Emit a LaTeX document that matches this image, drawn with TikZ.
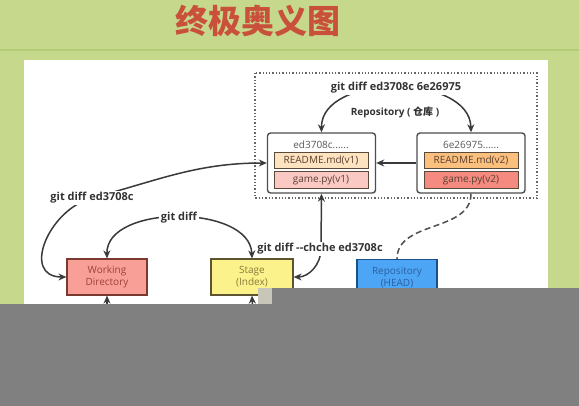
\documentclass[tikz,border=0pt]{standalone}
\usepackage{fontspec}
\setmainfont{Open Sans}
\newfontfamily\cjk{Noto Sans CJK SC}
\usetikzlibrary{arrows.meta}
\definecolor{bggreen}{HTML}{C5D88C}
\definecolor{bgline}{HTML}{B2CB74}
\definecolor{titlered}{HTML}{C9503A}
\definecolor{arrowgray}{HTML}{3A3A3A}
\definecolor{wdfill}{HTML}{F8A097}
\definecolor{wddraw}{HTML}{7A3A30}
\definecolor{wdtext}{HTML}{A0403A}
\definecolor{stfill}{HTML}{FBF28C}
\definecolor{stdraw}{HTML}{5E5530}
\definecolor{sttext}{HTML}{8A7A3A}
\definecolor{rhfill}{HTML}{4DA6F5}
\definecolor{rhdraw}{HTML}{1A4F8A}
\definecolor{rhtext}{HTML}{2A5FA0}
\definecolor{rmAfill}{HTML}{FDE3BF}
\definecolor{rmBfill}{HTML}{FBBF7E}
\definecolor{gmAfill}{HTML}{FBC9C4}
\definecolor{gmBfill}{HTML}{F58A80}
\definecolor{filedraw}{HTML}{5A4A3A}
\definecolor{filetext}{HTML}{5A4030}
\definecolor{covergray}{HTML}{808080}
\definecolor{checkgray}{HTML}{C8C6B8}
\tikzset{
  commitbox/.style={draw=arrowgray!90, line width=1.4pt, rounded corners=3pt, fill=white, minimum width=108pt, minimum height=60pt, inner sep=0pt},
  filebox/.style={draw=filedraw, line width=1pt, minimum width=94pt, minimum height=16.5pt, inner sep=0pt, font=\fontsize{10}{10}\selectfont, text=filetext},
  hashtext/.style={font=\fontsize{10}{10}\selectfont, text=black!65, inner sep=0pt},
  areabox/.style={line width=1.2pt, minimum width=80pt, minimum height=36pt, inner sep=0pt, align=center, font=\fontsize{10}{12}\selectfont},
  cmdlabel/.style={font=\bfseries\fontsize{11}{12}\selectfont, text=black!80, fill=white, inner sep=1.5pt},
  conn/.style={draw=arrowgray, line width=1.5pt},
  tip/.style={-{Stealth[length=8pt,width=7pt]}},
  tips/.style={{Stealth[length=8pt,width=7pt]}-{Stealth[length=8pt,width=7pt]}},
}
\begin{document}
\begin{tikzpicture}[x=1pt,y=-1pt]
\useasboundingbox (0,0) rectangle (579,406);
\fill[bggreen] (0,0) rectangle (579,406);
\draw[bgline, line width=1.2pt] (0,50) -- (579,50);
\node[text=titlered, font=\cjk\bfseries\fontsize{33}{36}\selectfont] (title) at (258,21) {终极奥义图};
\fill[white] (24,60) rectangle (548,406);

% repository frame
\draw[black!60, line width=1.3pt, dotted] (255,73) rectangle (537,198);
\node[font=\bfseries\fontsize{10}{12}\selectfont, text=black!80] (repolabel) at (395,112) {Repository ( {\cjk 仓库} )};

% commits
\node[commitbox] (c1) at (321.5,163) {};
\node[hashtext] (h1) at (321,145) {ed3708c......};
\node[filebox, fill=rmAfill] (r1) at (321,160.5) {README.md(v1)};
\node[filebox, fill=gmAfill] (g1) at (321,180) {game.py(v1)};

\node[commitbox] (c2) at (471,163) {};
\node[hashtext] (h2) at (471,145) {6e26975......};
\node[filebox, fill=rmBfill] (r2) at (471,160.5) {README.md(v2)};
\node[filebox, fill=gmBfill] (g2) at (471,180) {game.py(v2)};

% areas
\node[areabox, fill=wdfill, draw=wddraw, text=wdtext] (wd) at (107,277) {Working\\Directory};
\node[areabox, fill=stfill, draw=stdraw, text=sttext, minimum width=82pt] (st) at (252,277) {Stage\\(Index)};
\node[areabox, fill=rhfill, draw=rhdraw, text=rhtext] (rh) at (397,277.5) {Repository\\(HEAD)};

% connectors
\draw[conn, tip] (c2.west) -- (c1.east);
\draw[conn, tips] (c1.north) .. controls (321,73) and (470,73) .. (c2.north);
\node[cmdlabel] (l1) at (396,88) {git diff ed3708c 6e26975};

\coordinate (m1) at (92,198);
\draw[conn, tips] (c1.west) to[out=180,in=15] (m1) to[out=195,in=180,looseness=1.4] (wd.west);
\node[cmdlabel] (l2) at (m1) {git diff ed3708c};

\draw[conn, tips] (wd.north) .. controls (106,204) and (250,204) .. (st.north);
\node[cmdlabel] (l3) at (179,218) {git diff};

\coordinate (m4) at (321,249);
\draw[conn, -{Stealth[length=8pt,width=7pt]}] (m4) -- (c1.south);
\draw[conn, -{Stealth[length=8pt,width=7pt]}] (m4) to[out=270,in=0] (st.east);
\node[cmdlabel] (l4) at (320,249) {git diff -{}-chche ed3708c};

\draw[arrowgray!90, line width=1.5pt, dash pattern=on 6pt off 3.5pt] (c2.south) to[out=270,in=90] (rh.north);

\coordinate (b1) at (107,320);
\coordinate (b2) at (253,320);
\draw[conn, tip] (b1) -- (wd.south);
\draw[conn, tip] (b2) -- (st.south);

% grey cover at the bottom
\fill[covergray] (0,304) rectangle (579,406);
\fill[covergray] (272,288) rectangle (579,304);
\fill[checkgray] (258,288) rectangle (272,304);
\end{tikzpicture}
\end{document}
